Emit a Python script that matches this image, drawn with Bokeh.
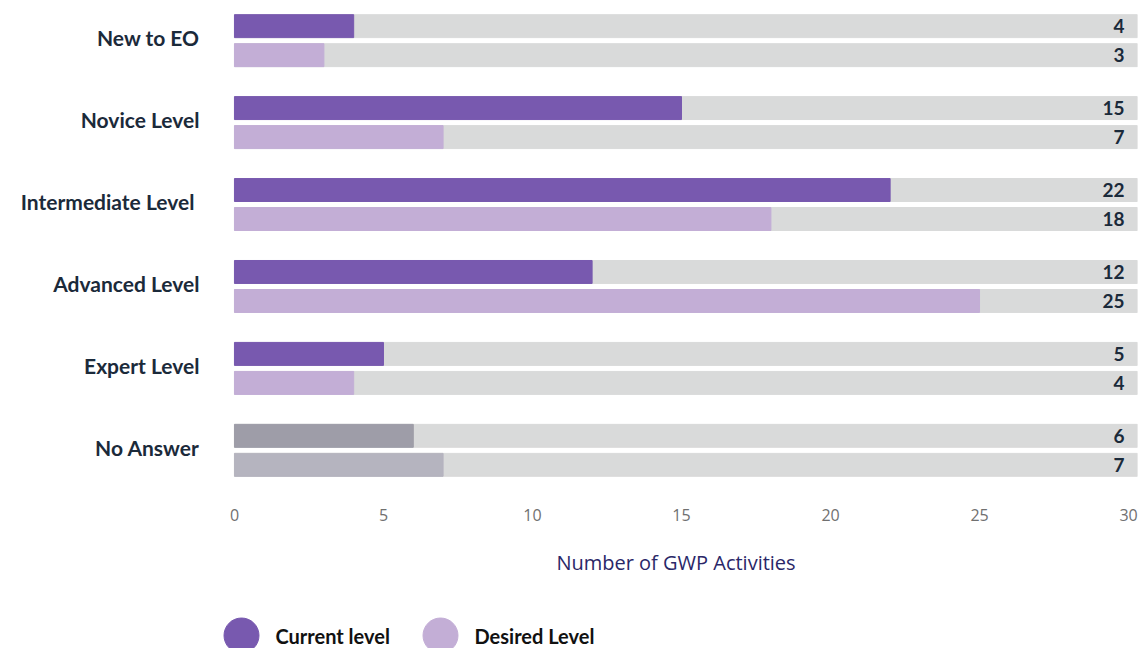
from bokeh.plotting import figure
from bokeh.models import Range1d, FixedTicker, ColumnDataSource
from bokeh.layouts import column
from bokeh.embed import file_html
from bokeh.resources import INLINE
from bokeh.core.properties import value

categories = ["New to EO", "Novice Level", "Intermediate  Level", "Advanced Level", "Expert Level", "No Answer"]
current = [4, 15, 22, 12, 5, 6]
desired = [3, 7, 18, 25, 4, 7]
series = ["Current level", "Desired Level"]
x_ticks = [0, 5, 10, 15, 20, 25, 30]
axis_title = "Number of GWP Activities"

cur_colors = ["#7859AF"] * 5 + ["#9E9DA8"]
des_colors = ["#C3AED6"] * 5 + ["#B5B4BF"]
BG = "#D9DADA"
LABEL = "#1B2A3A"

n = len(categories)
ypos = [n - 1 - i for i in range(n)]
FRAME_LEFT = 214
X_START = -0.67      # leaves room left of the bars so the legend is not clipped
X_END = 30.3
OFF = 0.177
H = 0.28
LBL_SHIFT = 0.04

p = figure(width=1139, height=590, x_range=Range1d(X_START, X_END), y_range=Range1d(-0.49, 5.49),
           output_backend="svg", toolbar_location=None,
           min_border_left=FRAME_LEFT, min_border_right=2, min_border_top=0, min_border_bottom=100)
p.outline_line_color = None
p.xgrid.visible = False
p.ygrid.visible = False

src = ColumnDataSource(dict(
    yc=[y + OFF for y in ypos], yd=[y - OFF for y in ypos],
    cur=current, des=desired, cc=cur_colors, dc=des_colors,
    tc=[str(v) for v in current], td=[str(v) for v in desired],
))

p.hbar(y="yc", left=0, right=X_END, height=H, color=BG, source=src)
p.hbar(y="yd", left=0, right=X_END, height=H, color=BG, source=src)
p.hbar(y="yc", left=0, right="cur", height=H, color="cc", source=src)
p.hbar(y="yd", left=0, right="des", height=H, color="dc", source=src)

for ycol, tcol in (("yc", "tc"), ("yd", "td")):
    p.text(x=X_END, y=ycol, text=tcol, source=src, x_offset=-13, text_align="right",
           text_baseline="middle", text_font=value("Lato"), text_font_style="bold",
           text_font_size="19px", text_color=LABEL)

# y axis
yt = [y + LBL_SHIFT for y in ypos]
p.yaxis.ticker = FixedTicker(ticks=yt)
p.yaxis.major_label_overrides = {t: c for t, c in zip(yt, categories)}
p.yaxis.axis_line_color = None
p.yaxis.major_tick_line_color = None
p.yaxis.minor_tick_line_color = None
p.yaxis.major_tick_out = 0
p.yaxis.major_tick_in = 0
p.yaxis.major_label_standoff = 15
p.yaxis.major_label_text_font = "Lato"
p.yaxis.major_label_text_font_style = "bold"
p.yaxis.major_label_text_font_size = "21px"
p.yaxis.major_label_text_color = LABEL

# x axis
p.xaxis.ticker = FixedTicker(ticks=x_ticks)
p.xaxis.axis_line_color = None
p.xaxis.major_tick_line_color = None
p.xaxis.minor_tick_line_color = None
p.xaxis.major_tick_out = 0
p.xaxis.major_tick_in = 0
p.xaxis.major_label_standoff = 18
p.xaxis.major_label_text_font = "Open Sans"
p.xaxis.major_label_text_font_size = "16px"
p.xaxis.major_label_text_color = "#707070"
p.xaxis.axis_label = axis_title
p.xaxis.axis_label_standoff = 25
p.xaxis.axis_label_text_font = "Open Sans"
p.xaxis.axis_label_text_font_style = "normal"
p.xaxis.axis_label_text_font_size = "20px"
p.xaxis.axis_label_text_color = "#2A2768"

# legend strip (pixel coordinates of the page)
leg = figure(width=1139, height=58, x_range=Range1d(FRAME_LEFT, 1137), y_range=Range1d(648, 590),
             output_backend="svg", toolbar_location=None, x_axis_type=None, y_axis_type=None,
             min_border=0, min_border_right=2)
leg.outline_line_color = None
leg.xgrid.visible = False
leg.ygrid.visible = False
lsrc = ColumnDataSource(dict(x=[241, 440], tx=[275, 474], y=[635, 635],
                             c=[cur_colors[0], des_colors[0]], t=series))
leg.scatter(x="x", y="y", size=35, color="c", source=lsrc)
leg.text(x="tx", y="y", text="t", source=lsrc, text_baseline="middle", text_font=value("Lato"),
         text_font_style="bold", text_font_size="20px", text_color="#111111")

layout = column(p, leg, spacing=0)
open("out.html", "w").write(file_html(layout, INLINE))
